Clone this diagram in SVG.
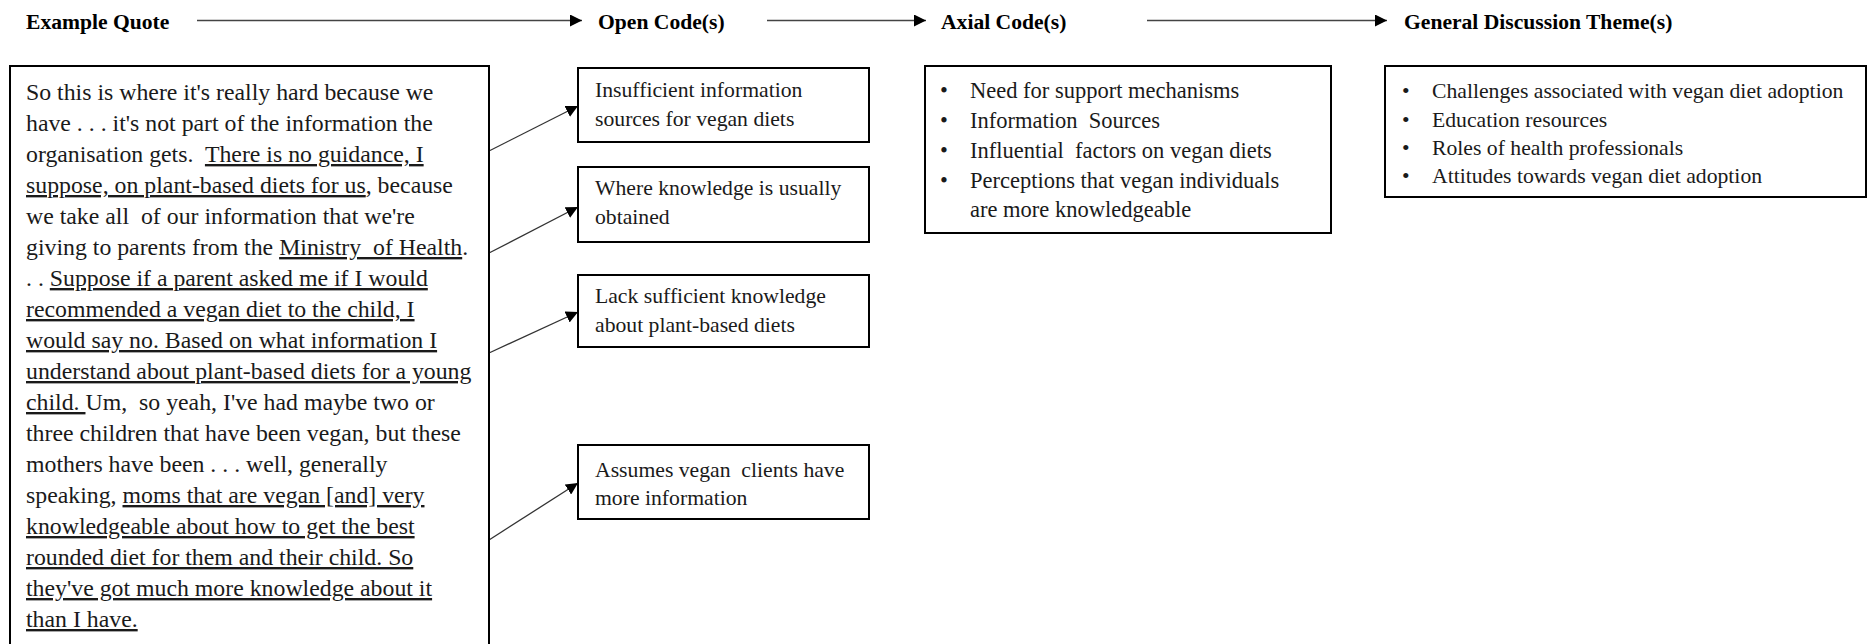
<svg xmlns="http://www.w3.org/2000/svg" width="1868" height="644" viewBox="0 0 1868 644">
<defs>
<style>
.hdr{font-family:"Liberation Serif","Times New Roman",serif;font-weight:bold;font-size:21.6px;fill:#000}
.q{font-family:"Liberation Serif","Times New Roman",serif;font-size:23.8px;fill:#1a1a1a;white-space:pre}
.oc{font-family:"Liberation Serif","Times New Roman",serif;font-size:21.7px;fill:#1a1a1a;white-space:pre}
.ax{font-family:"Liberation Serif","Times New Roman",serif;font-size:22.5px;fill:#1a1a1a;white-space:pre}
.th{font-family:"Liberation Serif","Times New Roman",serif;font-size:21.7px;fill:#1a1a1a;white-space:pre}
.u{text-decoration:underline}
.box{fill:#fff;stroke:#000;stroke-width:2}
.hline{stroke:#444;stroke-width:1.6;fill:none}
.conn{stroke:#333;stroke-width:1.3;fill:none}
</style>
<marker id="ah" viewBox="0 0 12 12" refX="12" refY="6" markerWidth="12" markerHeight="12" markerUnits="userSpaceOnUse" orient="auto">
<path d="M0,0 L12,6 L0,12 Z" fill="#000"/>
</marker>
</defs>

<g id="headers">
<text class="hdr" x="26" y="28.5">Example Quote</text>
<text class="hdr" x="598" y="28.5">Open Code(s)</text>
<text class="hdr" x="941" y="28.5">Axial Code(s)</text>
<text class="hdr" x="1404" y="28.5">General Discussion Theme(s)</text>
</g>

<g id="connectors">
<line class="hline" x1="197" y1="20.5" x2="582" y2="20.5" marker-end="url(#ah)"/>
<line class="hline" x1="767" y1="20.5" x2="926" y2="20.5" marker-end="url(#ah)"/>
<line class="hline" x1="1147" y1="20.5" x2="1387" y2="20.5" marker-end="url(#ah)"/>
<line class="conn" x1="489" y1="151" x2="578" y2="106" marker-end="url(#ah)"/>
<line class="conn" x1="489" y1="253" x2="578" y2="207" marker-end="url(#ah)"/>
<line class="conn" x1="489" y1="353" x2="578" y2="312" marker-end="url(#ah)"/>
<line class="conn" x1="489" y1="540" x2="578" y2="483" marker-end="url(#ah)"/>
</g>

<g id="quote">
<rect class="box" x="10" y="66" width="479" height="600"/>
<text class="q" x="26" y="100">So this is where it's really hard because we</text>
<text class="q" x="26" y="131">have . . . it's not part of the information the</text>
<text class="q" x="26" y="162">organisation gets.  <tspan class="u">There is no guidance, I</tspan></text>
<text class="q" x="26" y="193"><tspan class="u">suppose, on plant-based diets for us</tspan>, because</text>
<text class="q" x="26" y="224">we take all  of our information that we're</text>
<text class="q" x="26" y="255">giving to parents from the <tspan class="u">Ministry  of Health</tspan>.</text>
<text class="q" x="26" y="286">. . <tspan class="u">Suppose if a parent asked me if I would</tspan></text>
<text class="q" x="26" y="317"><tspan class="u">recommended a vegan diet to the child, I</tspan></text>
<text class="q" x="26" y="348"><tspan class="u">would say no. Based on what information I</tspan></text>
<text class="q" x="26" y="379"><tspan class="u">understand about plant-based diets for a young</tspan></text>
<text class="q" x="26" y="410"><tspan class="u">child. </tspan>Um,  so yeah, I've had maybe two or</text>
<text class="q" x="26" y="441">three children that have been vegan, but these</text>
<text class="q" x="26" y="472">mothers have been . . . well, generally</text>
<text class="q" x="26" y="503">speaking, <tspan class="u">moms that are vegan [and] very</tspan></text>
<text class="q" x="26" y="534"><tspan class="u">knowledgeable about how to get the best</tspan></text>
<text class="q" x="26" y="565"><tspan class="u">rounded diet for them and their child. So</tspan></text>
<text class="q" x="26" y="596"><tspan class="u">they've got much more knowledge about it</tspan></text>
<text class="q" x="26" y="627"><tspan class="u">than I have.</tspan></text>
</g>

<g id="open1">
<rect class="box" x="578" y="68" width="291" height="74"/>
<text class="oc" x="595" y="97">Insufficient information</text>
<text class="oc" x="595" y="126">sources for vegan diets</text>
</g>
<g id="open2">
<rect class="box" x="578" y="167" width="291" height="75"/>
<text class="oc" x="595" y="195">Where knowledge is usually</text>
<text class="oc" x="595" y="224">obtained</text>
</g>
<g id="open3">
<rect class="box" x="578" y="275" width="291" height="72"/>
<text class="oc" x="595" y="303">Lack sufficient knowledge</text>
<text class="oc" x="595" y="332">about plant-based diets</text>
</g>
<g id="open4">
<rect class="box" x="578" y="445" width="291" height="74"/>
<text class="oc" x="595" y="477">Assumes vegan  clients have</text>
<text class="oc" x="595" y="505">more information</text>
</g>

<g id="axial">
<rect class="box" x="925" y="66" width="406" height="167"/>
<text class="ax" x="940" y="98">•</text><text class="ax" x="970" y="98">Need for support mechanisms</text>
<text class="ax" x="940" y="128">•</text><text class="ax" x="970" y="128">Information  Sources</text>
<text class="ax" x="940" y="158">•</text><text class="ax" x="970" y="158">Influential  factors on vegan diets</text>
<text class="ax" x="940" y="188">•</text><text class="ax" x="970" y="188">Perceptions that vegan individuals</text>
<text class="ax" x="970" y="217">are more knowledgeable</text>
</g>

<g id="themes">
<rect class="box" x="1385" y="66" width="481" height="131"/>
<text class="th" x="1402" y="98">•</text><text class="th" x="1432" y="98">Challenges associated with vegan diet adoption</text>
<text class="th" x="1402" y="127">•</text><text class="th" x="1432" y="127">Education resources</text>
<text class="th" x="1402" y="155">•</text><text class="th" x="1432" y="155">Roles of health professionals</text>
<text class="th" x="1402" y="183">•</text><text class="th" x="1432" y="183">Attitudes towards vegan diet adoption</text>
</g>
</svg>
